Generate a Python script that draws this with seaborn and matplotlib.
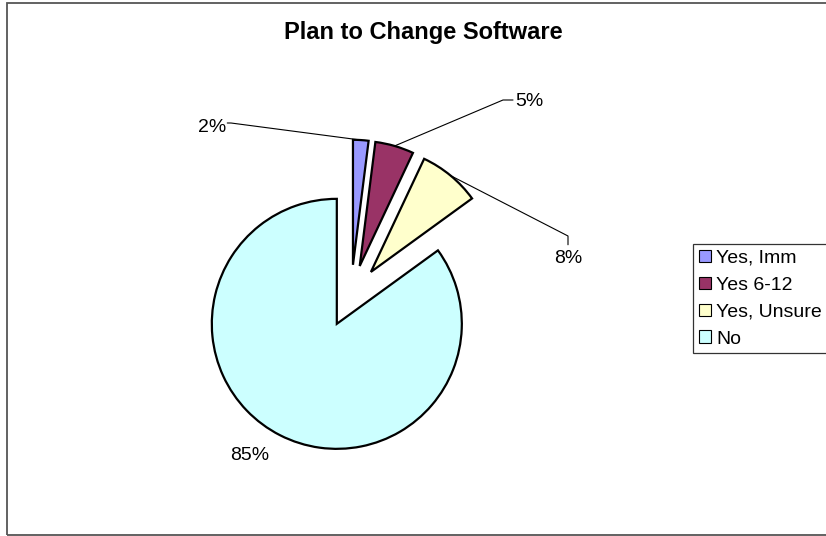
import matplotlib
matplotlib.use("Agg")
import matplotlib.pyplot as plt
from matplotlib.patches import Patch, Rectangle
import numpy as np
import seaborn as sns

# Survey answers: does the practice plan to change its software?
categories = ["Yes, Imm", "Yes 6-12", "Yes, Unsure", "No"]
shares = [2, 5, 8, 85]
pct_labels = ["2%", "5%", "8%", "85%"]
slice_colors = ["#9999FF", "#993366", "#FFFFCC", "#CCFFFF"]

sns.set_theme(style="white")
plt.rcParams["font.family"] = ["Liberation Sans", "DejaVu Sans"]
plt.rcParams["text.color"] = "black"

W, H, DPI = 826, 536, 100
fig = plt.figure(figsize=(W / DPI, H / DPI), dpi=DPI)
fig.patch.set_facecolor("white")

# pie centre in pixels and pixels per data unit
cx, cy, scale = 351, 296, 125
ax = fig.add_axes([0, 0, 1, 1])
palette = sns.color_palette(slice_colors)

wedges, _ = ax.pie(
    shares,
    colors=palette,
    explode=[0.25] * len(shares),
    startangle=90,
    counterclock=False,
    wedgeprops=dict(edgecolor="black", linewidth=1.6),
)
ax.set_xlim(-cx / scale, (W - cx) / scale)
ax.set_ylim((cy - H) / scale, cy / scale)
ax.set_aspect("auto")
ax.axis("off")


def rim_point(w):
    mid = np.deg2rad((w.theta1 + w.theta2) / 2)
    return w.center[0] + w.r * np.cos(mid), w.center[1] + w.r * np.sin(mid)


label_kw = dict(fontsize=14, color="black", va="center")
line_kw = dict(color="black", linewidth=0.8)

# 2% - leader to the left
x0, y0 = rim_point(wedges[0])
ax.plot([x0, -0.96, -0.99], [y0, 1.384, 1.384], **line_kw)
ax.text(-1.0, 1.344, pct_labels[0], ha="right", **label_kw)

# 5% - leader up to the right
x1, y1 = rim_point(wedges[1])
ax.plot([x1, 1.216, 1.296], [y1, 1.568, 1.568], **line_kw)
ax.text(1.312, 1.56, pct_labels[1], ha="left", **label_kw)

# 8% - leader out to the right, then down
x2, y2 = rim_point(wedges[2])
ax.plot([x2, 1.736, 1.736], [y2, 0.48, 0.41], **line_kw)
ax.text(1.736, 0.304, pct_labels[2], ha="center", **label_kw)

# 85% - beside its slice
ax.text(-0.808, -1.272, pct_labels[3], ha="center", **label_kw)

fig.text(423 / W, 1 - 33 / H, "Plan to Change Software",
         ha="center", va="center", fontsize=17, fontweight="bold",
         color="black")

handles = [Patch(facecolor=c, edgecolor="black", linewidth=0.8) for c in palette]
leg = fig.legend(
    handles, categories,
    loc="upper left", bbox_to_anchor=(693 / W, 1 - 244 / H),
    bbox_transform=fig.transFigure,
    fontsize=14, frameon=True, fancybox=False, shadow=False,
    borderaxespad=0, borderpad=0.3, handlelength=0.62, handleheight=0.62,
    handletextpad=0.26, labelspacing=0.5,
)
for t in leg.get_texts():
    t.set_color("black")
leg.get_frame().set_edgecolor("black")
leg.get_frame().set_linewidth(0.9)
leg.get_frame().set_facecolor("white")

fig.patches.append(Rectangle((7.5 / W, 1 / H), 1.2, (533.5 - 1) / H,
                             transform=fig.transFigure, fill=False,
                             edgecolor="#555555", linewidth=1.3))

fig.savefig("out.png", dpi=DPI, facecolor="white")
